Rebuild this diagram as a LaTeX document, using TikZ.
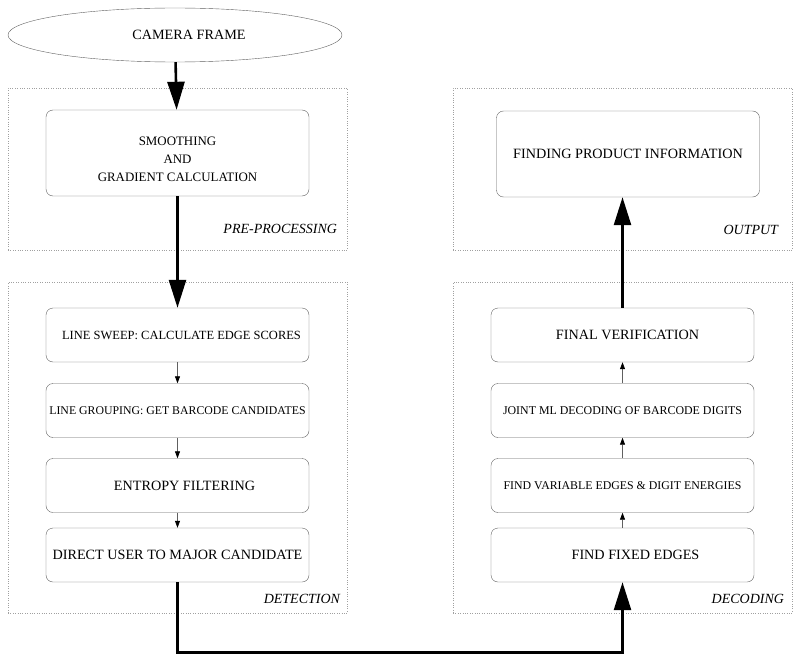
\documentclass[tikz,border=0pt]{standalone}
\usepackage{fontspec}
\setmainfont{Liberation Serif}
\usetikzlibrary{shapes.geometric,arrows.meta}
\definecolor{boxline}{HTML}{606060}
\definecolor{frameline}{HTML}{a0a0a0}

\begin{document}
\begin{tikzpicture}[
  x=1pt, y=-1pt,
  stage/.style={draw=boxline, rounded corners=7pt, minimum width=263pt, minimum height=54pt, align=center, font=\fontsize{14.2}{16}\selectfont},
  group/.style={draw=frameline, dotted, minimum width=339pt, inner sep=0pt},
  grouplab/.style={anchor=south east, font=\fontsize{14}{16}\itshape, inner sep=0pt},
  bigarrow/.style={-{Triangle[length=28pt,width=17pt]}, line width=2.6pt},
  smallarrow/.style={-{Triangle[length=7pt,width=5pt,color=black]}, draw=boxline, line width=0.8pt},
]
\useasboundingbox (0,0) rectangle (800,658);
% group frames
\node[group, minimum height=162pt] (pre) at (177.5,169) {};
\node[group, minimum height=331pt] (det) at (177.5,447.5) {};
\node[group, minimum height=162pt] (out) at (622.5,169) {};
\node[group, minimum height=331pt] (dec) at (622.5,447.5) {};
\node[grouplab, xshift=-10pt, yshift=16pt] (prelab) at (pre.south east) {PRE-PROCESSING};
\node[grouplab, xshift=-7pt, yshift=9pt] (detlab) at (det.south east) {DETECTION};
\node[grouplab, xshift=-14pt, yshift=15pt] (outlab) at (out.south east) {OUTPUT};
\node[grouplab, xshift=-8pt, yshift=9pt] (declab) at (dec.south east) {DECODING};
% input
\node[draw=boxline, ellipse, minimum width=334pt, minimum height=54pt, font=\fontsize{14.2}{16}\selectfont] (cam) at (175,35) {\hspace*{28pt}CAMERA FRAME};
% pre-processing
\node[stage, minimum height=86pt, font=\fontsize{12.9}{18}\selectfont] (smooth) at (177.5,153) {\rule{0pt}{21pt}SMOOTHING\\AND\\GRADIENT CALCULATION};
% detection
\node[stage, font=\fontsize{12.5}{15}\selectfont] (sweep) at (177.5,335) {\hspace*{8pt}LINE SWEEP: CALCULATE EDGE SCORES};
\node[stage, font=\fontsize{11.8}{14}\selectfont] (grouping) at (177.5,410.5) {LINE GROUPING: GET BARCODE CANDIDATES};
\node[stage] (entropy) at (177.5,485.5) {\hspace*{14pt}ENTROPY FILTERING};
\node[stage] (direct) at (177.5,555) {DIRECT USER TO MAJOR CANDIDATE};
% decoding
\node[stage] (fixed) at (622.5,555) {\hspace*{26pt}FIND FIXED EDGES};
\node[stage, font=\fontsize{11.85}{14}\selectfont] (variable) at (622.5,485.5) {FIND VARIABLE EDGES \& DIGIT ENERGIES};
\node[stage, font=\fontsize{11.9}{14}\selectfont] (joint) at (622.5,410.5) {JOINT ML DECODING OF BARCODE DIGITS};
\node[stage] (verify) at (622.5,335) {\hspace*{10pt}FINAL VERIFICATION};
% output
\node[stage, minimum height=86pt] (product) at (628,154) {FINDING PRODUCT INFORMATION};
% connectors
\draw[bigarrow] (cam) -- (smooth);
\draw[bigarrow] (smooth) -- (sweep);
\draw[smallarrow] (sweep) -- (grouping);
\draw[smallarrow] (grouping) -- (entropy);
\draw[smallarrow] (entropy) -- (direct);
\draw[bigarrow] (direct.south) -- ++(0,70) -| (fixed.south);
\draw[smallarrow] (fixed) -- (variable);
\draw[smallarrow] (variable) -- (joint);
\draw[smallarrow] (joint) -- (verify);
\draw[bigarrow] (verify.north) -- (verify.north |- product.south);
\end{tikzpicture}
\end{document}
